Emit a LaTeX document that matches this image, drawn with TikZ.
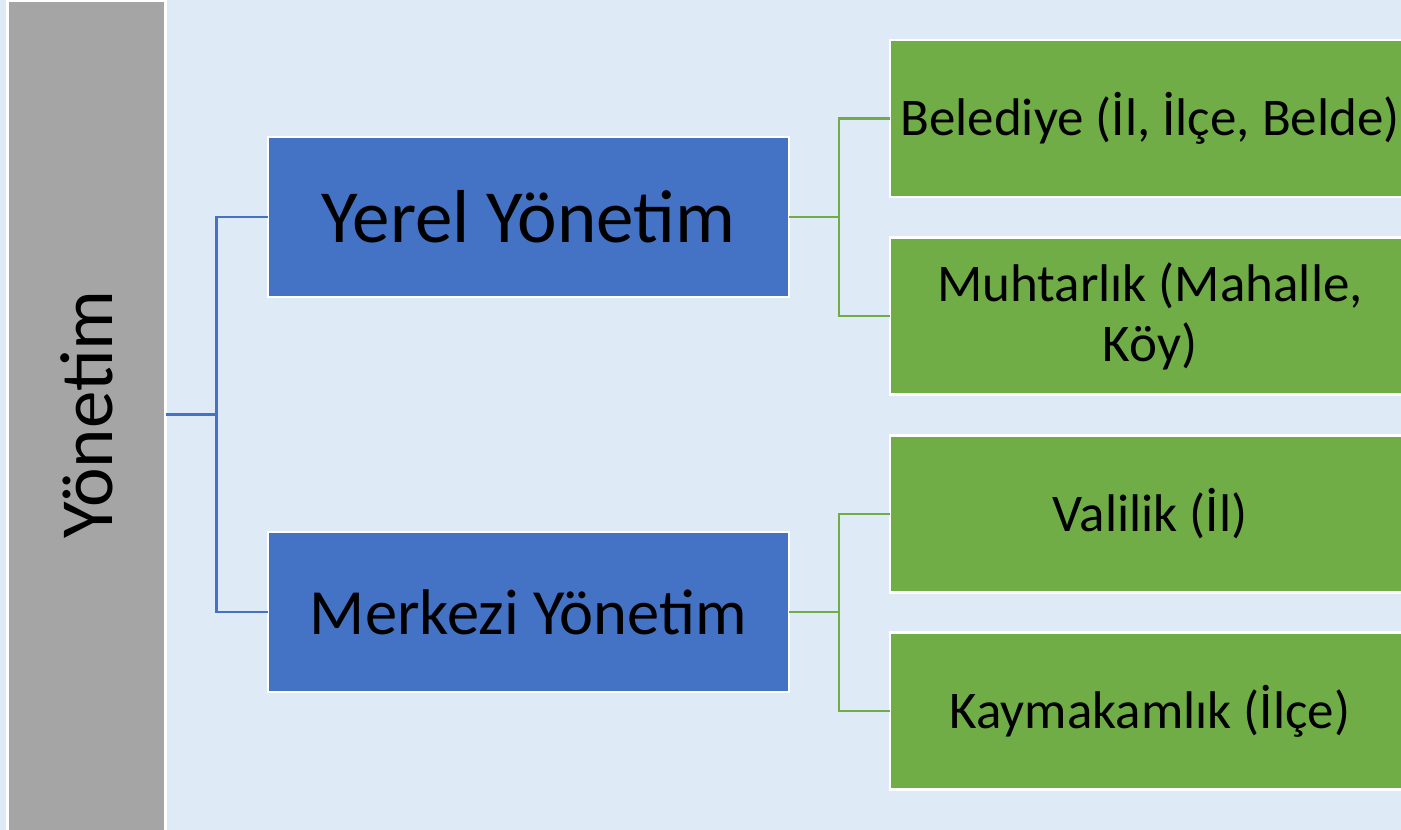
\documentclass[tikz,border=0pt]{standalone}
\usepackage{fontspec}
\setmainfont{Carlito}
\definecolor{bgblue}{HTML}{DEEAF6}
\definecolor{boxgray}{HTML}{A5A5A5}
\definecolor{boxblue}{HTML}{4472C4}
\definecolor{boxgreen}{HTML}{70AD47}
\tikzset{
  basebox/.style={draw=white, line width=2.5pt, outer sep=0pt, inner sep=0pt, text=black, align=center},
  rootbox/.style={basebox, fill=boxgray, minimum width=158pt, minimum height=859pt},
  midbox/.style={basebox, fill=boxblue, minimum width=521pt, minimum height=160pt},
  leafbox/.style={basebox, fill=boxgreen, minimum width=520pt, minimum height=157pt, font=\fontsize{53}{60}\selectfont},
  blueline/.style={draw=boxblue, line width=2.2pt},
  greenline/.style={draw=boxgreen, line width=2.2pt}
}
\begin{document}
\begin{tikzpicture}[x=1pt,y=-1pt]
\useasboundingbox (0,0) rectangle (1401,830);
\clip (0,0) rectangle (1401,830);
\fill[bgblue] (0,0) rectangle (1401,830);
\node[rootbox] (root) at (86.5,430.5) {};
\node[rotate=90, font=\fontsize{75}{86}\selectfont] (roottext) at (86.5,414.5) {Yönetim};
\node[midbox, font=\fontsize{75}{86}\selectfont] (yerel) at (528.5,217) {Yerel Yönetim};
\node[midbox, font=\fontsize{64.5}{76}\selectfont] (merkezi) at (528.5,612) {Merkezi Yönetim};
\node[leafbox] (bel) at (1150,118.5) {Belediye (İl, İlçe, Belde)};
\node[leafbox] (muh) at (1150,316) {Muhtarlık (Mahalle,\\Köy)};
\node[leafbox] (val) at (1150,514) {Valilik (İl)};
\node[leafbox] (kay) at (1150,711) {Kaymakamlık (İlçe)};
\coordinate (rootout) at (root.east |- roottext.center);
\draw[blueline] (rootout) -- ++(51,0) |- (yerel.west);
\draw[blueline] (rootout) -- ++(51,0) |- (merkezi.west);
\draw[greenline] (yerel.east) -- ++(50,0) |- (bel.west);
\draw[greenline] (yerel.east) -- ++(50,0) |- (muh.west);
\draw[greenline] (merkezi.east) -- ++(50,0) |- (val.west);
\draw[greenline] (merkezi.east) -- ++(50,0) |- (kay.west);
\end{tikzpicture}
\end{document}
